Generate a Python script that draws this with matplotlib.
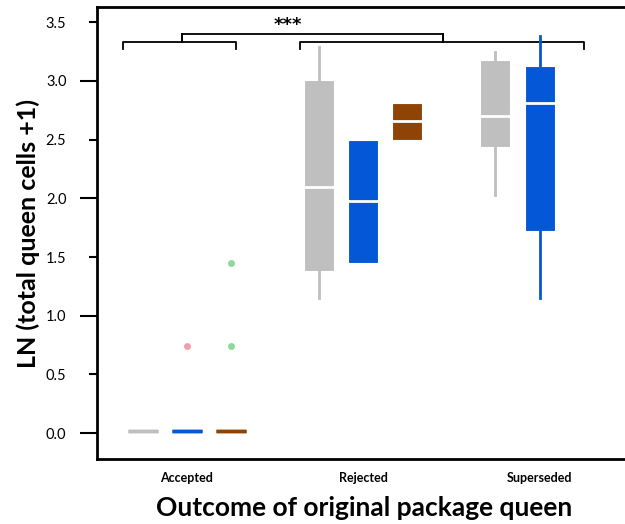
import matplotlib
matplotlib.use('Agg')
import matplotlib.pyplot as plt
import numpy as np

plt.rcParams['font.family'] = ['Lato', 'DejaVu Sans']

# groups and queen-type series (gray, blue, brown)
groups = ['Accepted', 'Rejected', 'Superseded']
colors = ['#bfbfbf', '#0457d6', '#8f4405']

# box stats per group per series: (whislo, q1, med, q3, whishi); None = no box
stats = {
    'Accepted':   [(0.02, 0.02, 0.02, 0.02, 0.02),
                   (0.02, 0.02, 0.02, 0.02, 0.02),
                   (0.02, 0.02, 0.02, 0.02, 0.02)],
    'Rejected':   [(1.15, 1.38, 2.10, 3.01, 3.29),
                   (1.45, 1.45, 1.98, 2.50, 2.50),
                   (2.50, 2.50, 2.66, 2.81, 2.81)],
    'Superseded': [(2.03, 2.44, 2.70, 3.18, 3.25),
                   (1.15, 1.72, 2.81, 3.13, 3.38),
                   None],
}
# outliers in Accepted group: (series index, value, colour)
outliers = [(1, 0.74, '#f2a0a8'), (2, 0.74, '#8fd89a'), (2, 1.45, '#8fd89a')]

fig = plt.figure(figsize=(6.25, 5.24), dpi=100)
ax = fig.add_axes([97/625, 1-459/524, 1-97/625+0.01, 452/524])

offs = [-0.25, 0, 0.25]
w = 0.17
for gi, g in enumerate(groups):
    for si, s in enumerate(stats[g]):
        if s is None:
            continue
        pos = gi + 1 + offs[si]
        d = dict(whislo=s[0], q1=s[1], med=s[2], q3=s[3], whishi=s[4], fliers=[])
        flat = s[1] == s[3]
        mc = colors[si] if flat else 'white'
        ax.bxp([d], positions=[pos], widths=w, patch_artist=True,
               showcaps=False, showfliers=False,
               boxprops=dict(facecolor=colors[si], edgecolor=colors[si] if flat else 'white',
                             linewidth=2.5 if flat else 0.8),
               whiskerprops=dict(color=colors[si], linewidth=2),
               medianprops=dict(color=mc, linewidth=2.5 if flat else 2))

for si, v, c in outliers:
    ax.plot(1 + offs[si], v, 'o', color=c, markersize=5, markeredgewidth=0, zorder=3)

# significance brackets
lw = 1.3
def bracket(x0, x1, xm, y, h, tip):
    ax.plot([x0, x0, x1, x1], [y - h, y, y, y - h], color='black', lw=lw, zorder=1)
    ax.plot([xm, xm], [y, y + tip], color='black', lw=lw, zorder=1)

bracket(0.64, 1.28, 0.97, 3.33, 0.06, 0.07)
bracket(1.64, 3.25, 2.45, 3.33, 0.06, 0.07)
ax.plot([0.97, 2.45], [3.40, 3.40], color='black', lw=lw, zorder=1)
ax.plot([0.97, 0.97], [3.40, 3.35], color='black', lw=lw, zorder=1)
ax.plot([2.45, 2.45], [3.40, 3.35], color='black', lw=lw, zorder=1)
ax.text(1.57, 3.475, '***', ha='center', va='center', fontsize=13,
        fontweight='bold', family='DejaVu Sans')

ax.set_xlim(0.49, 3.52)
ax.set_ylim(-0.22, 3.63)

ax.spines['right'].set_visible(False)
for sp in ['left', 'bottom', 'top']:
    ax.spines[sp].set_linewidth(2)

ax.set_xticks([1, 2, 3])
ax.set_xticklabels(groups, fontsize=9, fontweight='bold')
ax.tick_params(axis='x', length=0, pad=9)

ax.set_yticks([0, 1, 2, 3])
ax.set_yticklabels(['0.0', '1.0', '2.0', '3.0'])
ax.set_yticks([0.5, 1.5, 2.5, 3.5], minor=True)
ax.set_yticklabels(['0.5', '1.5', '2.5', '3.5'], minor=True)
ax.tick_params(axis='y', which='major', length=12, width=1.5, pad=10, labelsize=10.5)
ax.tick_params(axis='y', which='minor', length=6, width=1.5, pad=16, labelsize=10.5)

ax.set_ylabel('LN (total queen cells +1)', fontsize=18, fontweight='bold', labelpad=4)
ax.set_xlabel('Outcome of original package queen', fontsize=19, fontweight='bold', labelpad=9)

fig.savefig('out.png', dpi=100)
